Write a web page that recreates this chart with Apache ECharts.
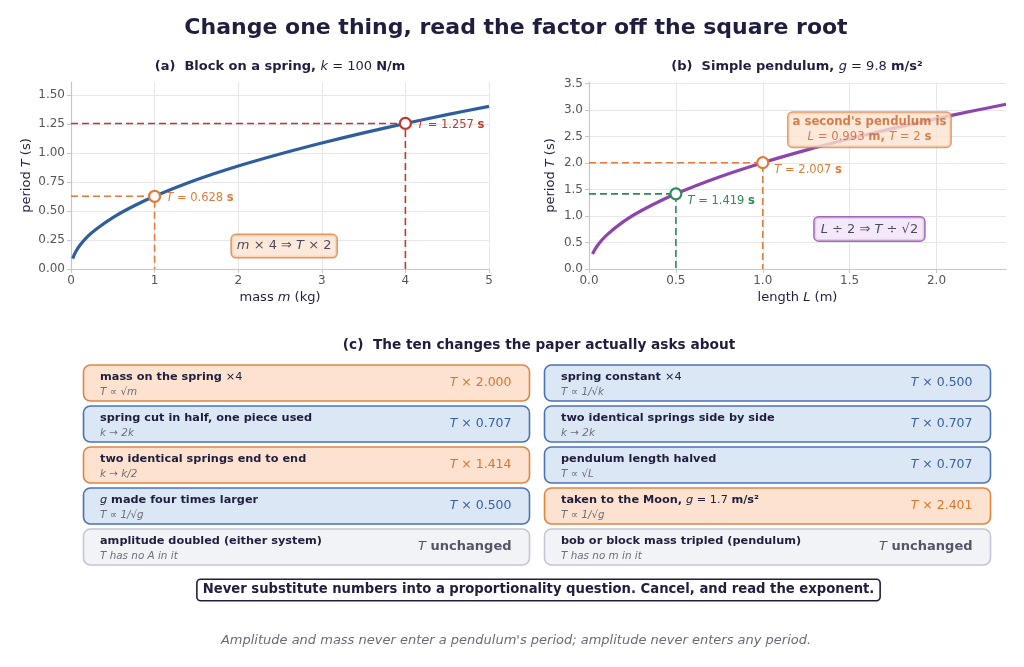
<!DOCTYPE html>
<html><head><meta charset="utf-8">
<script src="https://cdn.jsdelivr.net/npm/echarts@6/dist/echarts.min.js"></script>
<style>html,body{margin:0;padding:0;background:#fff}#c{width:1024px;height:667px}</style>
</head><body><div id="c"></div>
<script>
// ---------- data ----------
const springMass   = [0.02, 0.05, 0.1, 0.2, 0.3, 0.5, 0.75, 1.0, 1.5, 2.0, 2.5, 3.0, 3.5, 4.0, 4.5, 5.0];
const springPeriod = [0.089, 0.140, 0.199, 0.281, 0.344, 0.444, 0.544, 0.628, 0.770, 0.889, 0.993, 1.088, 1.176, 1.257, 1.333, 1.405];
const pendLength   = [0.02, 0.05, 0.1, 0.2, 0.3, 0.5, 0.75, 1.0, 1.25, 1.5, 1.75, 2.0, 2.2, 2.4];
const pendPeriod   = [0.284, 0.449, 0.635, 0.898, 1.099, 1.419, 1.738, 2.007, 2.244, 2.458, 2.655, 2.838, 2.977, 3.109];
const springMarkX  = [1, 4];
const springMarkT  = [0.628, 1.257];
const pendMarkX    = [0.5, 1.0];
const pendMarkT    = [1.419, 2.007];

const cardTitles = [
  '{b|mass on the spring }{n|×4}',
  '{b|spring cut in half, one piece used}',
  '{b|two identical springs end to end}',
  '{i|g}{b| made four times larger}',
  '{b|amplitude doubled (either system)}',
  '{b|spring constant }{n|×4}',
  '{b|two identical springs side by side}',
  '{b|pendulum length halved}',
  '{b|taken to the Moon, }{i|g}{n| = 1.7 }{b|m/s²}',
  '{b|bob or block mass tripled (pendulum)}'
];
const cardSubs = ['T ∝ √m', 'k → 2k', 'k → k/2', 'T ∝ 1/√g', 'T has no A in it',
                  'T ∝ 1/√k', 'k → 2k', 'T ∝ √L', 'T ∝ 1/√g', 'T has no m in it'];
const cardFactors = ['2.000', '0.707', '1.414', '0.500', null, '0.500', '0.707', '0.707', '2.401', null];
const cardKinds = ['up', 'down', 'up', 'down', 'same', 'down', 'down', 'down', 'up', 'same'];

// ---------- styles ----------
const F = 'DejaVu Sans';
const NAVY = '#1f1e3f';
const GRID = '#e6e6ec';
const SPINE = '#c6c6d0';
const TICK = '#555560';
function rich(size, color) {
  return {
    n: {fontFamily: F, fontSize: size, color: color},
    i: {fontFamily: F, fontSize: size, color: color, fontStyle: 'italic'},
    b: {fontFamily: F, fontSize: size, color: color, fontWeight: 'bold'}
  };
}
function richG(size, color) {
  return {
    n: {font: 'normal ' + size + 'px "DejaVu Sans"', fill: color},
    i: {font: 'italic ' + size + 'px "DejaVu Sans"', fill: color},
    b: {font: 'bold ' + size + 'px "DejaVu Sans"', fill: color}
  };
}
const kindStyle = {
  up:   {fill: '#fde3cf', stroke: '#e08443', text: '#d9742b'},
  down: {fill: '#dce7f5', stroke: '#4a72b5', text: '#3462a6'},
  same: {fill: '#f2f3f7', stroke: '#c3c6d2', text: '#555566'}
};

function xAxisCfg(idx, max, interval, name, dec, showMax) {
  return {
    type: 'value', gridIndex: idx, min: 0, max: max, interval: interval,
    name: name, nameLocation: 'middle', nameGap: 22,
    nameTextStyle: {rich: rich(13, NAVY)},
    axisLine: {show: true, lineStyle: {color: SPINE, width: 1.2}},
    axisTick: {show: true, length: 4, lineStyle: {color: SPINE}},
    axisLabel: {fontFamily: F, fontSize: 12, color: TICK, margin: 6, showMaxLabel: showMax,
      formatter: v => v.toFixed(dec)},
    splitLine: {show: true, showMinLine: false, showMaxLine: showMax, lineStyle: {color: GRID, width: 1}}
  };
}
function yAxisCfg(idx, max, interval, dec, gap) {
  return {
    type: 'value', gridIndex: idx, min: 0, max: max, interval: interval,
    name: '{n|period }{i|T}{n| (s)}', nameLocation: 'middle', nameGap: gap,
    nameTextStyle: {rich: rich(13, NAVY)},
    axisLine: {show: true, lineStyle: {color: SPINE, width: 1.2}},
    axisTick: {show: true, length: 4, lineStyle: {color: SPINE}},
    axisLabel: {fontFamily: F, fontSize: 12, color: TICK, margin: 6, showMaxLabel: false,
      formatter: v => v.toFixed(dec)},
    splitLine: {show: true, showMinLine: false, showMaxLine: false, lineStyle: {color: GRID, width: 1}}
  };
}

function zip(a, b) { return a.map((v, i) => [v, b[i]]); }

const series = [];
series.push({type: 'line', xAxisIndex: 0, yAxisIndex: 0, data: zip(springMass, springPeriod), smooth: 0.3,
  showSymbol: false, lineStyle: {color: '#2f5e9e', width: 3.2}, z: 2, silent: true});
series.push({type: 'line', xAxisIndex: 1, yAxisIndex: 1, data: zip(pendLength, pendPeriod), smooth: 0.3,
  showSymbol: false, lineStyle: {color: '#8e44ad', width: 3.2}, z: 2, silent: true});

function addMarks(axis, xs, ts, colors, offsets) {
  xs.forEach((x, i) => {
    series.push({type: 'line', xAxisIndex: axis, yAxisIndex: axis,
      data: [[0, ts[i]], [x, ts[i]], [x, 0]], showSymbol: false, silent: true,
      lineStyle: {color: colors[i], width: 1.6, type: [7, 4]}, z: 3});
    series.push({type: 'scatter', xAxisIndex: axis, yAxisIndex: axis, data: [[x, ts[i]]],
      symbol: 'circle', symbolSize: 11, z: 5, silent: true,
      itemStyle: {color: '#ffffff', borderColor: colors[i], borderWidth: 2.2, opacity: 1},
      label: {show: true, position: 'right', distance: 5, offset: offsets[i],
        formatter: '{i|T}{n| = ' + ts[i].toFixed(3) + ' }{b|s}', rich: rich(11.5, colors[i])}});
  });
}
addMarks(0, springMarkX, springMarkT, ['#e07b39', '#c0392b'], [[0, 2], [0, 2]]);
addMarks(1, pendMarkX, pendMarkT, ['#2e8b57', '#e07b39'], [[0, 7], [0, 7]]);

function noteBox(axis, x, y, text, r, fill, stroke, pad, lh) {
  series.push({type: 'scatter', xAxisIndex: axis, yAxisIndex: axis, data: [[x, y]], symbolSize: 0, silent: true, z: 6,
    label: {show: true, position: 'inside', formatter: text, rich: r, align: 'center',
      backgroundColor: fill, borderColor: stroke, borderWidth: 1.5, borderRadius: 4, padding: pad, lineHeight: lh}});
}
noteBox(0, 2.55, 0.198, '{i|m}{n| × 4 ⇒ }{i|T}{n| × 2}', rich(13, NAVY), '#fde3cf', '#e07b39', [3, 5, 3, 5], 16);
const r2 = rich(11.7, '#c8622a');
Object.keys(r2).forEach(k => r2[k].lineHeight = 15);
noteBox(1, 1.614, 2.63, '{b|a second\'s pendulum is}\n{i|L}{n| = 0.993 }{b|m, }{i|T}{n| = 2 }{b|s}', r2, '#fde3cf', '#e08443', [2, 4, 2, 4], 15);
noteBox(1, 1.614, 0.756, '{i|L}{n| ÷ 2 ⇒ }{i|T}{n| ÷ √2}', rich(13, NAVY), '#f1e3f8', '#8e44ad', [4, 6, 3, 6], 16);

// ---------- graphics: titles, cards, notes ----------
const graphic = [];
function txt(x, y, text, r, align) {
  graphic.push({type: 'text', x: x, y: y, silent: true,
    style: {text: text, rich: r, align: align || 'center', verticalAlign: 'middle'}});
}
txt(516, 28, '{b|Change one thing, read the factor off the square root}', richG(22, NAVY));
txt(280, 67, '{b|(a)  Block on a spring, }{i|k}{n| = 100 }{b|N/m}', richG(13, NAVY));
txt(797, 67, '{b|(b)  Simple pendulum, }{i|g}{n| = 9.8 }{b|m/s²}', richG(13, NAVY));
txt(539, 345, '{b|(c)  The ten changes the paper actually asks about}', richG(13.7, NAVY));

const colX = [83.5, 544.5], cardW = 446, cardH = 36, rowY0 = 365, rowStep = 41;
cardTitles.forEach((t, i) => {
  const col = Math.floor(i / 5), row = i % 5;
  const x = colX[col], y = rowY0 + row * rowStep;
  const ks = kindStyle[cardKinds[i]];
  graphic.push({type: 'rect', silent: true, shape: {x: x, y: y, width: cardW, height: cardH, r: 7},
    style: {fill: ks.fill, stroke: ks.stroke, lineWidth: 1.6}});
  txt(x + 16.5, y + 12, t, richG(11.3, NAVY), 'left');
  txt(x + 16.5, y + 27, '{i|' + cardSubs[i] + '}', richG(10.4, '#6e6e7e'), 'left');
  const v = cardFactors[i] === null ? '{i|T}{b| unchanged}' : '{i|T}{n| × ' + cardFactors[i] + '}';
  txt(x + cardW - 18, y + cardH / 2, v, richG(cardFactors[i] === null ? 13 : 12.5, ks.text), 'right');
});

graphic.push({type: 'text', x: 538.5, y: 590, silent: true,
  style: {text: 'Never substitute numbers into a proportionality question. Cancel, and read the exponent.',
    font: 'bold 13.2px "DejaVu Sans"', fill: NAVY, align: 'center', verticalAlign: 'middle',
    backgroundColor: '#ffffff', borderColor: NAVY, borderWidth: 1.6, borderRadius: 3, padding: [4, 5, 3, 5]}});
txt(516, 641, '{i|Amplitude and mass never enter a pendulum\'s period; amplitude never enters any period.}', richG(13, '#6a6a78'));

const chart = echarts.init(document.getElementById('c'), null, {renderer: 'canvas'});
chart.setOption({
  backgroundColor: '#ffffff',
  animation: false,
  grid: [
    {left: 71, top: 82, width: 418, height: 187},
    {left: 589, top: 82, width: 417, height: 187}
  ],
  xAxis: [
    xAxisCfg(0, 5, 1, '{n|mass }{i|m}{n| (kg)}', 0, true),
    xAxisCfg(1, 2.4, 0.5, '{n|length }{i|L}{n| (m)}', 1, false)
  ],
  yAxis: [
    yAxisCfg(0, 1.615, 0.25, 2, 38),
    yAxisCfg(1, 3.53, 0.5, 1, 32)
  ],
  series: series,
  graphic: graphic
});
</script></body></html>
